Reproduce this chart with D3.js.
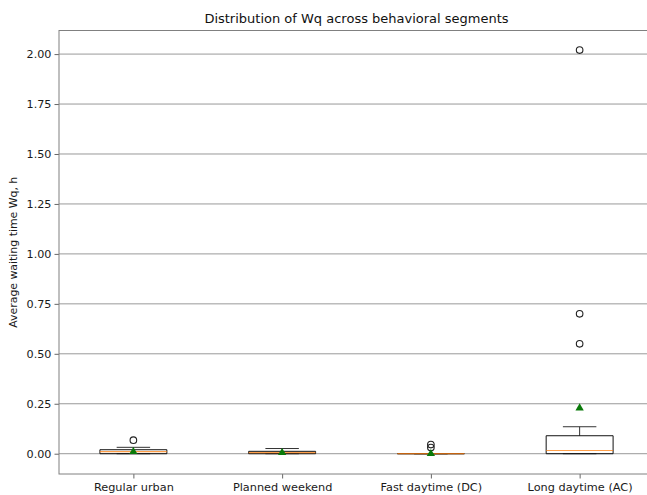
<!DOCTYPE html>
<html>
<head>
<meta charset="utf-8">
<script src="https://cdn.jsdelivr.net/npm/d3@7"></script>
<style>
  body { margin: 0; background: #fff; }
  text { font-family: "DejaVu Sans", sans-serif; }
</style>
</head>
<body>
<svg width="647" height="495"></svg>
<script>
// segments and box stats
var segments = ["Regular urban", "Planned weekend", "Fast daytime (DC)", "Long daytime (AC)"];
var q1 = [0.0, 0.0, 0.0, 0.0];
var medians = [0.01, 0.005, 0.0, 0.016];
var q3 = [0.02, 0.012, 0.0, 0.09];
var whiskLo = [0.0, 0.0, 0.0, 0.0];
var whiskHi = [0.032, 0.026, 0.0, 0.135];
var means = [0.01, 0.005, 0.0, 0.228];
var outliers = [[0.068], [], [0.046, 0.031], [0.55, 0.70, 2.02]];
var yTicks = [0, 0.25, 0.5, 0.75, 1.0, 1.25, 1.5, 1.75, 2.0];

var svg = d3.select("svg");
var plotL = 59, plotR = 654, plotT = 30.5, plotB = 474;

var x = d3.scaleLinear().domain([0.5, 4.5]).range([plotL, plotR]);
var y = d3.scaleLinear().domain([-0.1015, 2.118]).range([plotB, plotT]);
var bw = x(1.45) - x(1);   // box width 0.45
var cw = bw / 2;

// grid
svg.append("g")
  .selectAll("line")
  .data(yTicks)
  .enter()
  .append("line")
  .attr("x1", plotL).attr("x2", plotR)
  .attr("y1", function(d) { return y(d); })
  .attr("y2", function(d) { return y(d); })
  .attr("stroke", "#999")
  .attr("stroke-width", 1);

// axes
var yAxis = d3.axisLeft(y).tickValues(yTicks).tickFormat(d3.format(".2f")).tickSize(4.5).tickPadding(3);
var gy = svg.append("g").attr("transform", "translate(" + plotL + ",0)").call(yAxis);
gy.select(".domain").remove();
gy.selectAll("text").attr("font-size", 11.2).attr("fill", "#1a1a1a");
gy.selectAll("line").attr("stroke", "#666");

var xAxis = d3.axisBottom(x).tickValues([1, 2, 3, 4])
  .tickFormat(function(d) { return segments[d - 1]; }).tickSize(4.5).tickPadding(4);
var gx = svg.append("g").attr("transform", "translate(0," + plotB + ")").call(xAxis);
gx.select(".domain").remove();
gx.selectAll("text").attr("font-size", 11.3).attr("fill", "#1a1a1a");
gx.selectAll("line").attr("stroke", "#666");

// frame
svg.append("rect")
  .attr("x", plotL).attr("y", plotT)
  .attr("width", plotR - plotL).attr("height", plotB - plotT)
  .attr("fill", "none").attr("stroke", "#808080").attr("stroke-width", 1);

// boxes
var boxes = svg.append("g").selectAll("g")
  .data(segments)
  .enter()
  .append("g");

boxes.append("line")
  .attr("x1", function(d, i) { return x(i + 1); })
  .attr("x2", function(d, i) { return x(i + 1); })
  .attr("y1", function(d, i) { return y(q3[i]); })
  .attr("y2", function(d, i) { return y(whiskHi[i]); })
  .attr("stroke", "#333");
boxes.append("line")
  .attr("x1", function(d, i) { return x(i + 1) - cw / 2; })
  .attr("x2", function(d, i) { return x(i + 1) + cw / 2; })
  .attr("y1", function(d, i) { return y(whiskHi[i]); })
  .attr("y2", function(d, i) { return y(whiskHi[i]); })
  .attr("stroke", "#333");
boxes.append("line")
  .attr("x1", function(d, i) { return x(i + 1) - cw / 2; })
  .attr("x2", function(d, i) { return x(i + 1) + cw / 2; })
  .attr("y1", function(d, i) { return y(whiskLo[i]); })
  .attr("y2", function(d, i) { return y(whiskLo[i]); })
  .attr("stroke", "#333");
// box drawn as a path so a zero-height box still shows its edge
boxes.append("path")
  .attr("d", function(d, i) {
    var x0 = x(i + 1) - bw / 2, x1 = x(i + 1) + bw / 2;
    var y0 = y(q1[i]), y1 = y(q3[i]);
    return "M" + x0 + "," + y0 + "L" + x1 + "," + y0 + "L" + x1 + "," + y1 + "L" + x0 + "," + y1 + "Z";
  })
  .attr("fill", "none")
  .attr("stroke", "#111");
boxes.append("line")
  .attr("x1", function(d, i) { return x(i + 1) - bw / 2; })
  .attr("x2", function(d, i) { return x(i + 1) + bw / 2; })
  .attr("y1", function(d, i) { return y(medians[i]); })
  .attr("y2", function(d, i) { return y(medians[i]); })
  .attr("stroke", "#ff7f0e")
  .attr("stroke-width", 1.2)
  .attr("opacity", 0.75);

// outliers
boxes.each(function(d, i) {
  d3.select(this).selectAll("circle")
    .data(outliers[i])
    .enter()
    .append("circle")
    .attr("cx", x(i + 1))
    .attr("cy", function(v) { return y(v); })
    .attr("r", 3.3)
    .attr("fill", "none")
    .attr("stroke", "#222")
    .attr("stroke-width", 1.1);
});

// means
var tri = d3.symbol().type(d3.symbolTriangle).size(30);
boxes.append("path")
  .attr("d", tri)
  .attr("transform", function(d, i) { return "translate(" + x(i + 1) + "," + y(means[i]) + ")"; })
  .attr("fill", "#0a7a0a");

// title and label
svg.append("text")
  .attr("x", (plotL + plotR) / 2).attr("y", 22.5)
  .attr("text-anchor", "middle")
  .attr("font-size", 13)
  .attr("fill", "#111")
  .text("Distribution of Wq across behavioral segments");

svg.append("text")
  .attr("transform", "translate(17," + ((plotT + plotB) / 2) + ") rotate(-90)")
  .attr("text-anchor", "middle")
  .attr("font-size", 10.9)
  .attr("fill", "#1a1a1a")
  .text("Average waiting time Wq, h");
</script>
</body>
</html>
